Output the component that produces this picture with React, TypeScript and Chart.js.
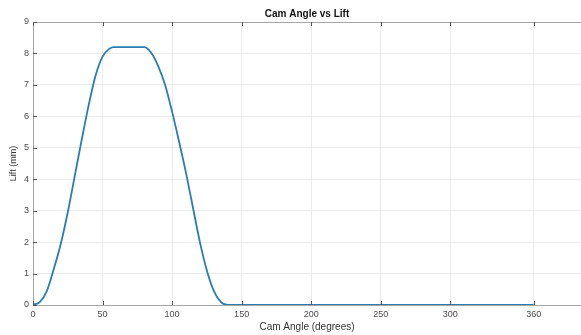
import React, { useEffect, useRef } from "react";
import { Chart, registerables } from "chart.js";

Chart.register(...registerables);

const camAngles = [0, 5, 10, 15, 20, 25, 30, 35, 40, 45, 50, 55, 58, 65, 72, 80, 85, 90, 95, 100, 105, 110, 115, 120, 125, 130, 135, 140, 200, 250, 300, 360];
const liftValues = [0, 0.1, 0.45, 1.15, 1.95, 2.95, 4.1, 5.25, 6.35, 7.3, 7.9, 8.15, 8.2, 8.2, 8.2, 8.2, 8.02, 7.6, 7.0, 6.15, 5.2, 4.2, 3.1, 2.0, 1.1, 0.45, 0.1, 0, 0, 0, 0, 0];
const xTickValues = [0, 50, 100, 150, 200, 250, 300, 360];
const chartTitle = "Cam Angle vs Lift";
const xTitle = "Cam Angle (degrees)";
const yTitle = "Lift (mm)";

const FONT = "'Liberation Sans', Arial, sans-serif";

export default function App() {
  const ref = useRef<HTMLCanvasElement | null>(null);

  useEffect(() => {
    document.body.style.margin = "0";
    const canvas = ref.current;
    if (!canvas) return;

    const decor = {
      id: "decor",
      afterDraw(chart: any) {
        const { ctx, chartArea } = chart;
        const xs = chart.scales.x;
        const ys = chart.scales.y;
        ctx.save();
        ctx.strokeStyle = "#a6a6a6";
        ctx.lineWidth = 1;
        ctx.beginPath();
        ctx.moveTo(chartArea.left + 0.5, chartArea.bottom);
        ctx.lineTo(chartArea.left + 0.5, chartArea.top + 0.5);
        ctx.lineTo(chartArea.right, chartArea.top + 0.5);
        ctx.stroke();
        ctx.strokeStyle = "#555";
        ctx.beginPath();
        xTickValues.forEach((v) => {
          const px = Math.round(xs.getPixelForValue(v)) + 0.5;
          ctx.moveTo(px, chartArea.top);
          ctx.lineTo(px, chartArea.top + 4);
          ctx.moveTo(px, chartArea.bottom);
          ctx.lineTo(px, chartArea.bottom - 4);
        });
        for (let v = 0; v <= 9; v++) {
          const py = Math.round(ys.getPixelForValue(v)) + 0.5;
          ctx.moveTo(chartArea.left, py);
          ctx.lineTo(chartArea.left + 4, py);
        }
        ctx.stroke();
        ctx.fillStyle = "#111";
        ctx.font = `bold 10px ${FONT}`;
        ctx.textAlign = "center";
        ctx.textBaseline = "middle";
        ctx.fillText(chartTitle, (chartArea.left + chartArea.right) / 2, 14);
        ctx.restore();
      },
    };

    const chart = new Chart(canvas, {
      type: "line",
      data: {
        datasets: [
          {
            data: camAngles.map((a, i) => ({ x: a, y: liftValues[i] })),
            borderColor: "#2a7db3",
            borderWidth: 1.8,
            pointRadius: 0,
            fill: false,
            cubicInterpolationMode: "monotone",
          },
        ],
      },
      options: {
        animation: false,
        responsive: false,
        maintainAspectRatio: false,
        layout: { padding: { top: 22, right: 0, left: 0, bottom: 0 } },
        plugins: {
          legend: { display: false },
          title: { display: false },
          tooltip: { enabled: false },
        },
        scales: {
          x: {
            type: "linear",
            min: 0,
            max: 394,
            afterBuildTicks: (scale: any) => {
              scale.ticks = xTickValues.map((v) => ({ value: v }));
            },
            afterFit: (scale: any) => {
              scale.height = 30;
            },
            ticks: {
              autoSkip: false,
              maxRotation: 0,
              color: "#4a4a4a",
              font: { family: FONT, size: 9 },
              padding: 4,
            },
            grid: { color: "#ebebeb", drawTicks: false },
            border: { color: "#a6a6a6" },
            title: {
              display: true,
              text: xTitle,
              color: "#333",
              font: { family: FONT, size: 10 },
              padding: { top: 0, bottom: 2 },
            },
          },
          y: {
            type: "linear",
            min: 0,
            max: 9,
            ticks: {
              stepSize: 1,
              color: "#4a4a4a",
              font: { family: FONT, size: 9 },
              padding: 4,
            },
            afterFit: (scale: any) => {
              scale.width = 33;
            },
            grid: { color: "#ebebeb", drawTicks: false },
            border: { color: "#a6a6a6" },
            title: {
              display: true,
              text: yTitle,
              color: "#333",
              font: { family: FONT, size: 9 },
              padding: { top: 8, bottom: 0 },
            },
          },
        },
      },
      plugins: [decor],
    });
    return () => chart.destroy();
  }, []);

  return (
    <div style={{ position: "absolute", left: 0, top: 0, width: 581, height: 335, background: "#fff" }}>
      <canvas ref={ref} width={581} height={335} style={{ width: 581, height: 335 }} />
    </div>
  );
}
